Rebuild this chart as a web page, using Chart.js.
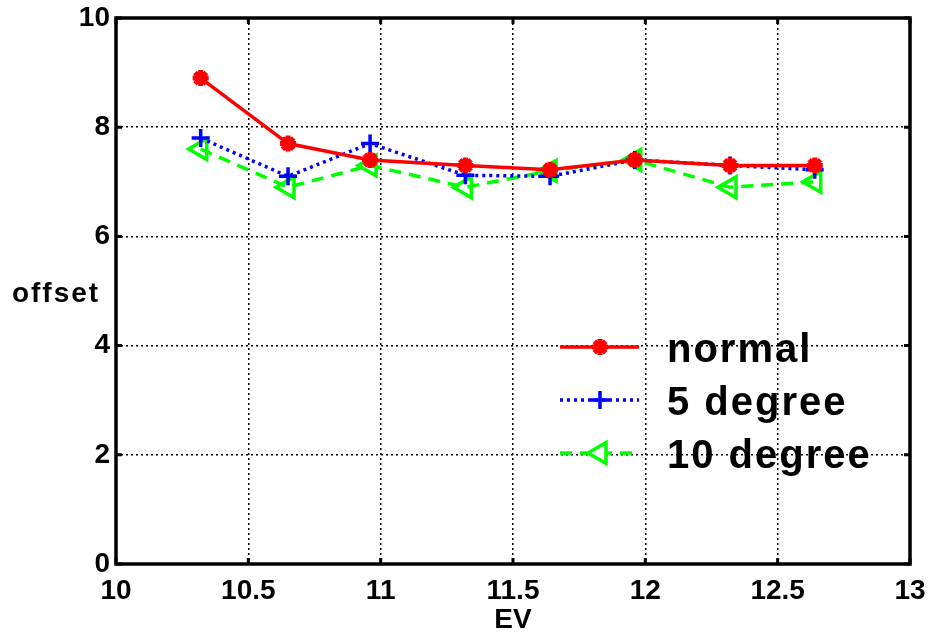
<!DOCTYPE html>
<html>
<head>
<meta charset="utf-8">
<script src="https://cdn.jsdelivr.net/npm/chart.js@4/dist/chart.umd.min.js"></script>
<style>
  html, body { margin: 0; padding: 0; background: #fff; }
  #wrap { width: 931px; height: 634px; }
</style>
</head>
<body>
<div id="wrap"><canvas id="offset-chart"></canvas></div>
<script>
// Offset vs EV

const evValues = [10.32, 10.65, 10.96, 11.32, 11.64, 11.96, 12.32, 12.64];
const normalOffset = [8.9, 7.7, 7.4, 7.3, 7.22, 7.4, 7.3, 7.3];
const deg5Offset = [7.8, 7.1, 7.7, 7.12, 7.1, 7.4, 7.3, 7.22];
const deg10Offset = [7.6, 6.9, 7.3, 6.9, 7.2, 7.4, 6.9, 7.0];
const seriesLabels = ['normal', '5 degree', '10 degree'];
const xTicks = [10, 10.5, 11, 11.5, 12, 12.5, 13];
const yTicks = [0, 2, 4, 6, 8, 10];

const FONT = '"Liberation Sans", Arial, sans-serif';

function toPoints(ys) {
  return ys.map(function(y, i) { return { x: evValues[i], y: y }; });
}

// manual marker drawing for the legend swatches
function drawMarker(ctx, ds, x, y) {
  ctx.save();
  ctx.setLineDash([]);
  ctx.strokeStyle = ds.borderColor;
  ctx.fillStyle = ds.borderColor;
  ctx.lineWidth = ds.pointBorderWidth;
  var r = ds.pointRadius;
  if (ds.pointStyle === 'star') {
    ctx.beginPath();
    for (var i = 0; i < 4; i++) {
      var a = i * Math.PI / 4;
      ctx.moveTo(x - Math.cos(a) * r, y - Math.sin(a) * r);
      ctx.lineTo(x + Math.cos(a) * r, y + Math.sin(a) * r);
    }
    ctx.stroke();
  } else if (ds.pointStyle === 'cross') {
    ctx.beginPath();
    ctx.moveTo(x - r, y); ctx.lineTo(x + r, y);
    ctx.moveTo(x, y - r); ctx.lineTo(x, y + r);
    ctx.stroke();
  } else if (ds.pointStyle === 'triangle') {
    // pointing left
    ctx.fillStyle = '#fff';
    ctx.beginPath();
    ctx.moveTo(x - r, y);
    ctx.lineTo(x + r * 0.5, y - r * Math.sqrt(3) / 2);
    ctx.lineTo(x + r * 0.5, y + r * Math.sqrt(3) / 2);
    ctx.closePath();
    ctx.fill();
    ctx.stroke();
  }
  ctx.restore();
}

const framePlugin = {
  id: 'frame',
  afterDraw: function(chart) {
    const ctx = chart.ctx;
    const area = chart.chartArea;
    const xs = chart.scales.x;
    const ys = chart.scales.y;

    ctx.save();
    // inward tick marks
    ctx.strokeStyle = '#000';
    ctx.lineWidth = 3;
    ctx.beginPath();
    xTicks.forEach(function(v) {
      const px = xs.getPixelForValue(v);
      ctx.moveTo(px, area.top); ctx.lineTo(px, area.top + 6);
      ctx.moveTo(px, area.bottom); ctx.lineTo(px, area.bottom - 6);
    });
    yTicks.forEach(function(v) {
      const py = ys.getPixelForValue(v);
      ctx.moveTo(area.left, py); ctx.lineTo(area.left + 6, py);
      ctx.moveTo(area.right, py); ctx.lineTo(area.right - 6, py);
    });
    ctx.stroke();

    // box
    ctx.lineWidth = 3.5;
    ctx.strokeRect(area.left, area.top, area.right - area.left, area.bottom - area.top);

    // horizontal y label
    ctx.fillStyle = '#000';
    ctx.font = 'bold 28px ' + FONT;
    ctx.textAlign = 'center';
    ctx.textBaseline = 'alphabetic';
    if ('letterSpacing' in ctx) ctx.letterSpacing = '2px';
    ctx.fillText('offset', 56, 302);
    ctx.restore();

    // legend
    const rows = [347, 400, 453];
    chart.data.datasets.forEach(function(ds, i) {
      const y = rows[i];
      ctx.save();
      ctx.strokeStyle = ds.borderColor;
      ctx.lineWidth = ds.borderWidth;
      ctx.setLineDash(ds.borderDash || []);
      ctx.beginPath();
      ctx.moveTo(560, y);
      ctx.lineTo(639, y);
      ctx.stroke();
      ctx.restore();
      drawMarker(ctx, ds, 600, y);

      ctx.save();
      ctx.fillStyle = '#000';
      ctx.font = 'bold 40px ' + FONT;
      if ('letterSpacing' in ctx) ctx.letterSpacing = '2px';
      ctx.textAlign = 'left';
      ctx.textBaseline = 'alphabetic';
      ctx.fillText(ds.label, 667, y + 15);
      ctx.restore();
    });
  }
};

const offsetCanvas = document.getElementById('offset-chart');
const offsetChart = new Chart(offsetCanvas, {
  type: 'line',
  data: {
    datasets: [{
      label: seriesLabels[0],
      data: toPoints(normalOffset),
      borderColor: '#ff0000',
      backgroundColor: '#ff0000',
      borderWidth: 3.5,
      pointStyle: 'star',
      pointRadius: 8,
      pointBorderWidth: 5,
      pointBackgroundColor: '#ff0000'
    }, {
      label: seriesLabels[1],
      data: toPoints(deg5Offset),
      borderColor: '#0000ff',
      backgroundColor: '#0000ff',
      borderWidth: 3.5,
      borderDash: [3, 4],
      pointStyle: 'cross',
      pointRadius: 9,
      pointBorderWidth: 3.5
    }, {
      label: seriesLabels[2],
      data: toPoints(deg10Offset),
      borderColor: '#00ff00',
      backgroundColor: '#00ff00',
      borderWidth: 3.5,
      borderDash: [12, 8],
      pointStyle: 'triangle',
      rotation: -90,
      pointRadius: 12,
      pointBorderWidth: 3.5,
      pointBackgroundColor: 'rgba(0,0,0,0)'
    }]
  },
  options: {
    responsive: true,
    maintainAspectRatio: false,
    animation: false,
    layout: { padding: { top: 18, right: 21, left: 0, bottom: 0 } },
    plugins: {
      legend: { display: false },
      tooltip: { enabled: false }
    },
    scales: {
      x: {
        type: 'linear',
        min: 10,
        max: 13,
        afterFit: function(scale) {
          scale.height = 70;
          scale.paddingLeft = 0;
          scale.paddingRight = 0;
        },
        afterBuildTicks: function(scale) {
          scale.ticks = xTicks.map(function(v) { return { value: v }; });
        },
        ticks: {
          color: '#000',
          padding: 10,
          maxRotation: 0,
          autoSkip: false,
          callback: function(value) { return String(value); },
          font: { family: FONT, size: 28, weight: 'bold' }
        },
        grid: {
          color: '#000',
          lineWidth: 1.5,
          drawTicks: false
        },
        border: { display: false, dash: [2, 3] },
        title: {
          display: true,
          text: 'EV',
          color: '#000',
          padding: { top: 0, bottom: -3 },
          font: { family: FONT, size: 28, weight: 'bold' }
        }
      },
      y: {
        type: 'linear',
        min: 0,
        max: 10,
        afterFit: function(scale) {
          scale.width = 116;
          scale.paddingTop = 0;
          scale.paddingBottom = 0;
        },
        afterBuildTicks: function(scale) {
          scale.ticks = yTicks.map(function(v) { return { value: v }; });
        },
        ticks: {
          color: '#000',
          padding: 6,
          callback: function(value) { return String(value); },
          font: { family: FONT, size: 28, weight: 'bold' }
        },
        grid: {
          color: '#000',
          lineWidth: 1.5,
          drawTicks: false
        },
        border: { display: false, dash: [2, 3] }
      }
    }
  },
  plugins: [framePlugin]
});
</script>
</body>
</html>
